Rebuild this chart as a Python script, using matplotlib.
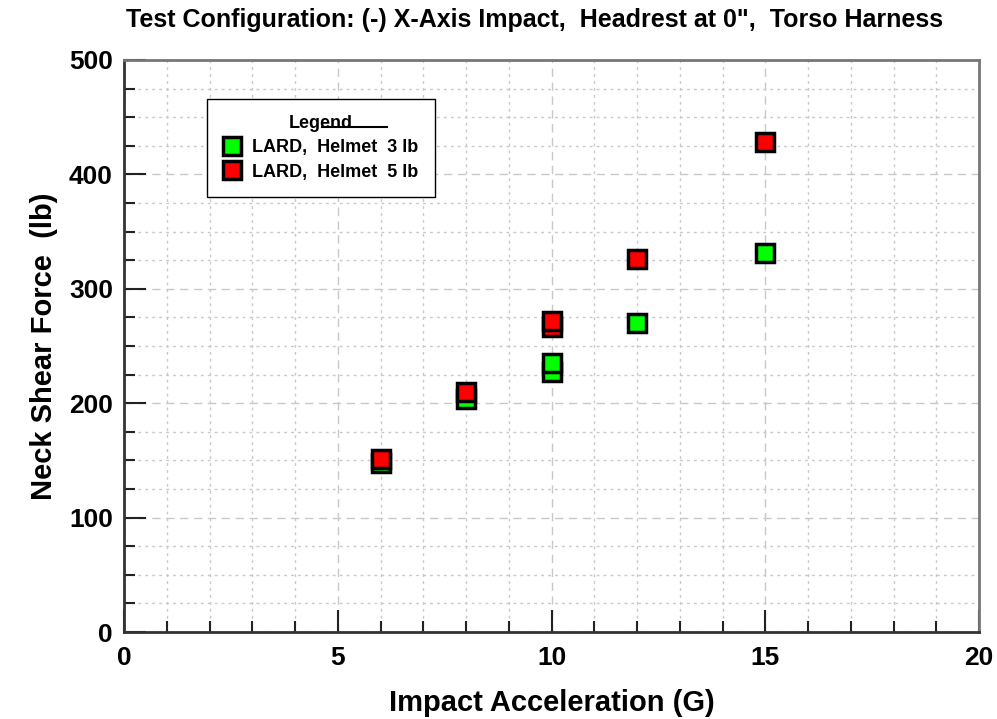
import matplotlib.pyplot as plt
from matplotlib.ticker import MultipleLocator
from matplotlib.lines import Line2D

plt.rcParams["font.family"] = ["Liberation Sans", "DejaVu Sans"]
plt.rcParams["font.weight"] = "bold"

# Helmet 3 lb
accel_3lb = [6, 8, 10, 10, 12, 15]
shear_3lb = [148, 204, 227, 235, 270, 331]

# Helmet 5 lb
accel_5lb = [6, 8, 10, 10, 12, 15]
shear_5lb = [151, 210, 267, 272, 326, 428]

fig = plt.figure(figsize=(9.97, 7.19), dpi=100)
ax = fig.add_axes([0.1244, 0.121, 0.8576, 0.7956])

ax.set_xlim(0, 20)
ax.set_ylim(0, 500)
ax.xaxis.set_major_locator(MultipleLocator(5))
ax.xaxis.set_minor_locator(MultipleLocator(1))
ax.yaxis.set_major_locator(MultipleLocator(100))
ax.yaxis.set_minor_locator(MultipleLocator(25))

ax.grid(which="major", color="#c8c8c8", linestyle=(0, (6, 4)), linewidth=1.0)
ax.grid(which="minor", color="#c8c8c8", linestyle=(0, (2, 3)), linewidth=1.0)
ax.set_axisbelow(True)

ax.tick_params(which="major", direction="in", length=16, width=1.5, color="#222222",
               labelsize=19, pad=10)
ax.tick_params(which="minor", direction="in", length=8, width=1.5, color="#222222")
ax.tick_params(axis="y", which="major", pad=8)
for lab in ax.get_xticklabels() + ax.get_yticklabels():
    lab.set_fontweight("bold")

ax.spines["left"].set_color("#333333")
ax.spines["bottom"].set_color("#333333")
ax.spines["left"].set_linewidth(2)
ax.spines["bottom"].set_linewidth(2)
ax.spines["top"].set_color("#777777")
ax.spines["right"].set_color("#777777")
ax.spines["top"].set_linewidth(2)
ax.spines["right"].set_linewidth(2)

ax.plot(accel_3lb, shear_3lb, linestyle="none", marker="s", markersize=13.5,
        markerfacecolor="#00ff00", markeredgecolor="black", markeredgewidth=2.5,
        label="LARD,  Helmet  3 lb")
ax.plot(accel_5lb, shear_5lb, linestyle="none", marker="s", markersize=13.5,
        markerfacecolor="#ff0000", markeredgecolor="black", markeredgewidth=2.5,
        label="LARD,  Helmet  5 lb")

ax.set_xlabel("Impact Acceleration (G)", fontsize=21, fontweight="bold", labelpad=14)
ax.set_ylabel("Neck Shear Force  (lb)", fontsize=21, fontweight="bold", labelpad=8)
fig.text(0.536, 0.972, "Test Configuration: (-) X-Axis Impact,  Headrest at 0\",  Torso Harness",
         ha="center", va="center", fontsize=18, fontweight="bold")

leg = ax.legend(loc="upper left", bbox_to_anchor=(0.097, 0.932), borderaxespad=0,
                title="Legend", fancybox=False, framealpha=1, edgecolor="black",
                prop={"size": 13, "weight": "bold"}, title_fontproperties={"size": 13, "weight": "bold"},
                handletextpad=0.6, labelspacing=0.4, borderpad=0.9, handlelength=1.0,
                markerscale=1.0)
leg.get_frame().set_linewidth(1.0)

# underline under the legend title
fig.add_artist(Line2D([322 / 997, 387 / 997], [1 - 127 / 719, 1 - 127 / 719],
                      color="black", linewidth=1.5))

fig.savefig("out.png", dpi=100)
